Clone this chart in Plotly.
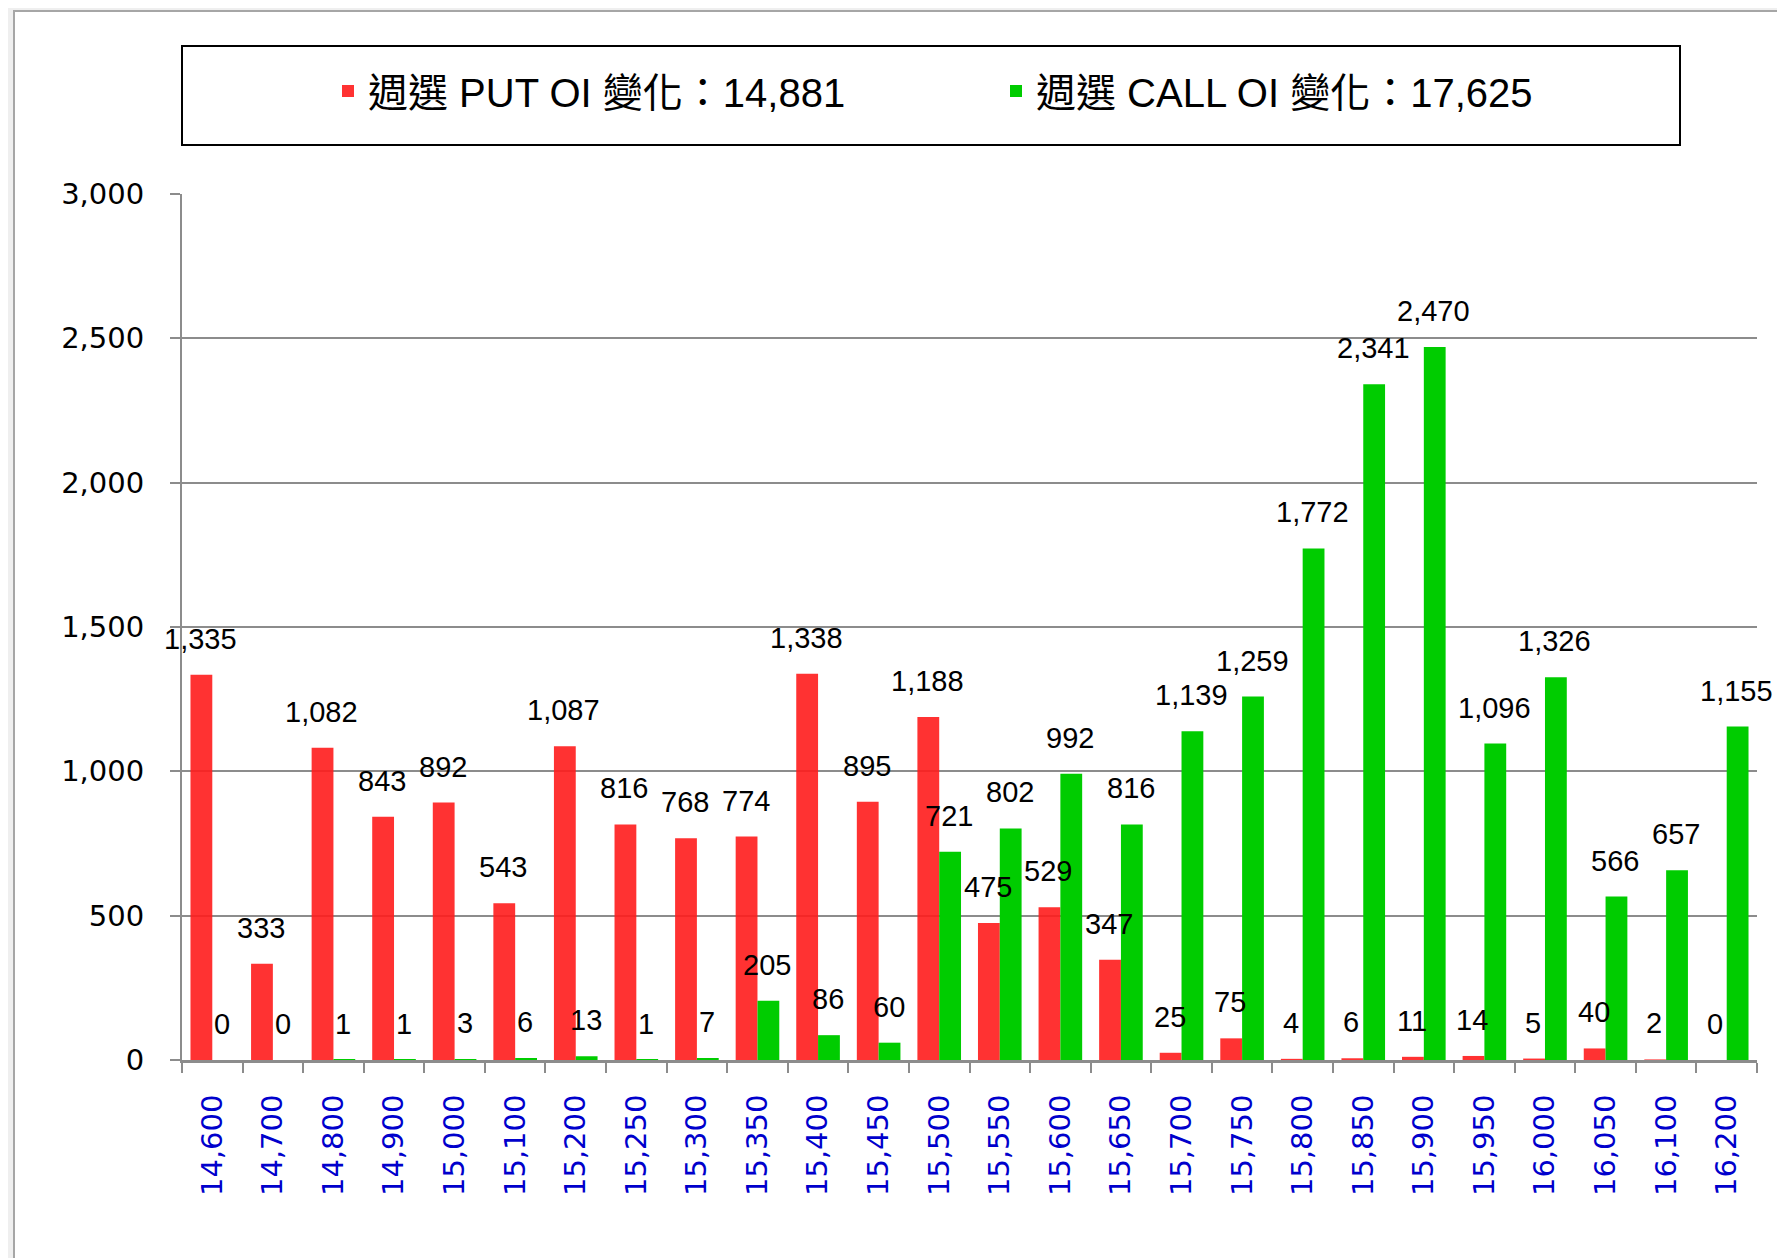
import plotly.graph_objects as go

# ---------------- data ----------------
strikes = ["14,600", "14,700", "14,800", "14,900", "15,000", "15,100", "15,200",
           "15,250", "15,300", "15,350", "15,400", "15,450", "15,500", "15,550",
           "15,600", "15,650", "15,700", "15,750", "15,800", "15,850", "15,900",
           "15,950", "16,000", "16,050", "16,100", "16,200"]
put_oi = [1335, 333, 1082, 843, 892, 543, 1087, 816, 768, 774, 1338, 895, 1188,
          475, 529, 347, 25, 75, 4, 6, 11, 14, 5, 40, 2, 0]
call_oi = [0, 0, 1, 1, 3, 6, 13, 1, 7, 205, 86, 60, 721, 802, 992, 816, 1139,
           1259, 1772, 2341, 2470, 1096, 1326, 566, 657, 1155]
put_name = "週選 PUT OI 變化：14,881"
call_name = "週選 CALL OI 變化：17,625"
y_ticks = [0, 500, 1000, 1500, 2000, 2500, 3000]

# ---------------- layout geometry (page pixels; page has an 8px body margin) ----------------
OFF = 8
W, H = 1785 - OFF, 1258 - OFF
L, T = 182 - OFF, 194 - OFF
R = W - (1757 - OFF)
B = H - (1060 - OFF)
PW, PH = W - L - R, H - T - B


def fx(px):
    return (px - OFF - L) / PW


def fy(py):
    return (H - B - (py - OFF)) / PH


RED = "rgba(255,28,28,0.9)"
GREEN = "#00CC00"
LABEL_FONT = dict(family="Liberation Sans, Arial", size=29, color="black")
LEGEND_FONT = dict(family="Liberation Sans, Noto Sans CJK TC", size=40, color="black")

fig = go.Figure()
fig.add_trace(go.Bar(x=strikes, y=put_oi, name=put_name, marker=dict(color=RED, line=dict(width=0)),
                     legend="legend", cliponaxis=False))
fig.add_trace(go.Bar(x=strikes, y=call_oi, name=call_name, marker=dict(color=GREEN, line=dict(width=0)),
                     legend="legend2", cliponaxis=False))

# value labels above bars
cat_w = PW / len(strikes)
bar_w = cat_w * 0.72 / 2
annotations = []
for s, v in zip(strikes, put_oi):
    annotations.append(dict(x=s, y=v, xref="x", yref="y", text=f"{v:,}", showarrow=False,
                            yanchor="bottom", xanchor="center", xshift=-bar_w / 2 - 1, yshift=18,
                            font=LABEL_FONT))
for s, v in zip(strikes, call_oi):
    annotations.append(dict(x=s, y=v, xref="x", yref="y", text=f"{v:,}", showarrow=False,
                            yanchor="bottom", xanchor="center", xshift=bar_w / 2 - 1, yshift=18,
                            font=LABEL_FONT))

shapes = [
    # outer chart frame
    dict(type="rect", xref="paper", yref="paper", x0=fx(14), x1=fx(1820), y0=fy(1320), y1=fy(11),
         line=dict(color="#A6A6A6", width=2), fillcolor="white", layer="below"),
    # legend box
    dict(type="rect", xref="paper", yref="paper", x0=fx(182), x1=fx(1680), y0=fy(145), y1=fy(46),
         line=dict(color="black", width=2), fillcolor="rgba(0,0,0,0)"),
]

fig.update_layout(
    width=W, height=H,
    margin=dict(l=L, r=R, t=T, b=B, pad=0),
    paper_bgcolor="#EFEFEF",
    plot_bgcolor="white",
    barmode="group",
    bargap=0.28,
    bargroupgap=0,
    showlegend=True,
    legend=dict(orientation="h", x=fx(328), y=fy(91), xanchor="left", yanchor="middle",
                bgcolor="rgba(0,0,0,0)", borderwidth=0, font=LEGEND_FONT),
    legend2=dict(orientation="h", x=fx(996), y=fy(91), xanchor="left", yanchor="middle",
                 bgcolor="rgba(0,0,0,0)", borderwidth=0, font=LEGEND_FONT),
    xaxis=dict(type="category", range=[-0.5, len(strikes) - 0.5], autorange=False,
               tickangle=-90, tickson="boundaries", ticks="outside", ticklen=10,
               tickcolor="#8C8C8C", tickwidth=2, showline=True, linecolor="#8C8C8C", linewidth=3,
               showgrid=False, ticklabelstandoff=20,
               tickfont=dict(family="DejaVu Sans", size=29, color="#0000CC")),
    yaxis=dict(range=[0, 3000], autorange=False, tickvals=y_ticks, tickformat=",d",
               ticks="outside", ticklen=10,
               tickcolor="#8C8C8C", tickwidth=2, showline=True, linecolor="#8C8C8C", linewidth=2,
               showgrid=True, gridcolor="#8C8C8C", gridwidth=2, zeroline=False,
               ticklabelstandoff=20,
               tickfont=dict(family="DejaVu Sans", size=29, color="black")),
    annotations=annotations,
    shapes=shapes,
)

fig.write_html("out.html")
